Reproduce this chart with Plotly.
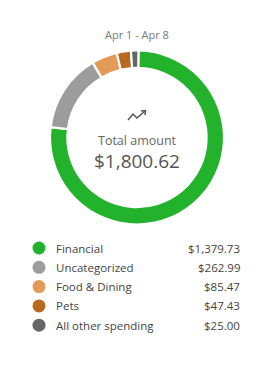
import plotly.graph_objects as go

categories = ["Financial", "Uncategorized", "Food & Dining", "Pets", "All other spending"]
amounts = [1379.73, 262.99, 85.47, 47.43, 25.00]
colors = ["#22b22b", "#9c9c9c", "#e39a56", "#b8681f", "#666666"]
period = "Apr 1 - Apr 8"
total_label = "Total amount"

W, H = 279, 371
total = sum(amounts)

def px(x):
    return x / W

def py(y):
    return 1 - y / H

fig = go.Figure()
fig.add_trace(go.Pie(
    labels=categories, values=amounts, hole=0.80, sort=False,
    direction="clockwise", rotation=1,
    marker=dict(colors=colors, line=dict(color="white", width=2.2)),
    textinfo="none", hoverinfo="label+value", showlegend=False,
    domain=dict(x=[px(50), px(224)], y=[py(225), py(50)]),
))

font = "Open Sans, sans-serif"
ann = [
    dict(x=px(137), y=py(34), text=period, font=dict(size=11, color="#7a7a7a", family=font)),
    dict(x=px(137), y=py(140.5), text=total_label, font=dict(size=12.5, color="#666666", family=font)),
    dict(x=px(137), y=py(160.5), text=f"${total:,.2f}", font=dict(size=19, color="#555555", family=font)),
]
shapes = [
    dict(type="path", xref="paper", yref="paper",
         path=f"M {px(128)} {py(120)} L {px(133)} {py(114)} L {px(137)} {py(118)} L {px(145)} {py(111)}",
         line=dict(color="#555555", width=1.5)),
    dict(type="path", xref="paper", yref="paper",
         path=f"M {px(141)} {py(111)} L {px(145.5)} {py(110.5)} L {px(145)} {py(115)}",
         line=dict(color="#555555", width=1.5)),
]
row_y0, row_dy = 248, 19.3
for i, (c, v, col) in enumerate(zip(categories, amounts, colors)):
    y = row_y0 + i * row_dy
    shapes.append(dict(type="circle", xref="paper", yref="paper",
                       x0=px(32.5), x1=px(45.5), y0=py(y + 6.5), y1=py(y - 6.5),
                       fillcolor=col, line=dict(width=0)))
    ann.append(dict(x=px(54), y=py(y), text=c, xanchor="left",
                    font=dict(size=11.5, color="#444444", family=font)))
    ann.append(dict(x=px(242), y=py(y), text=f"${v:,.2f}", xanchor="right",
                    font=dict(size=11.5, color="#444444", family=font)))
for a in ann:
    a.setdefault("xanchor", "center")
    a.update(xref="paper", yref="paper", yanchor="middle", showarrow=False)

fig.update_layout(width=W, height=H, margin=dict(l=0, r=0, t=0, b=0),
                  paper_bgcolor="white", plot_bgcolor="white",
                  annotations=ann, shapes=shapes)
fig.write_html("out.html")
